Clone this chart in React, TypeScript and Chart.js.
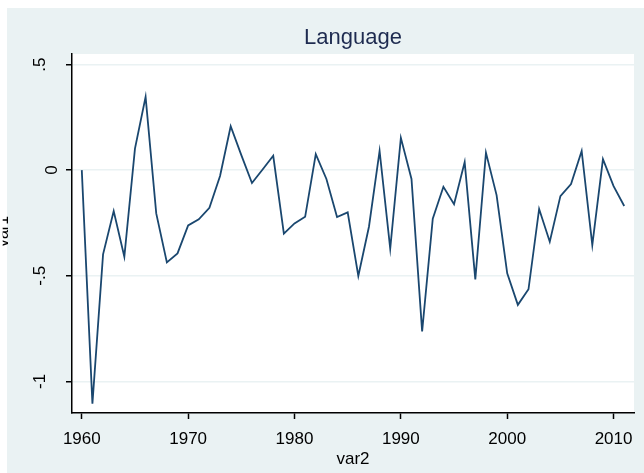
import { useEffect, useRef } from "react";
import { Chart, registerables } from "chart.js";

Chart.register(...registerables);

const years = [
  1960, 1961, 1962, 1963, 1964, 1965, 1966, 1967, 1968, 1969,
  1970, 1971, 1972, 1973, 1974, 1975, 1976, 1977, 1978, 1979,
  1980, 1981, 1982, 1983, 1984, 1985, 1986, 1987, 1988, 1989,
  1990, 1991, 1992, 1993, 1994, 1995, 1996, 1997, 1998, 1999,
  2000, 2001, 2002, 2003, 2004, 2005, 2006, 2007, 2008, 2009,
  2010, 2011,
];

const values = [
  0.0, -1.106, -0.399, -0.194, -0.41, 0.102, 0.347, -0.205, -0.437, -0.394,
  -0.262, -0.233, -0.178, -0.028, 0.208, 0.071, -0.061, 0.003, 0.068, -0.301,
  -0.252, -0.221, 0.076, -0.042, -0.222, -0.2, -0.501, -0.268, 0.091, -0.372,
  0.153, -0.042, -0.764, -0.23, -0.079, -0.161, 0.038, -0.517, 0.083, -0.118,
  -0.489, -0.638, -0.564, -0.184, -0.339, -0.123, -0.066, 0.091, -0.355, 0.052,
  -0.076, -0.17,
];

const xTicks = [1960, 1970, 1980, 1990, 2000, 2010];
const yTicks = [-1, -0.5, 0, 0.5];
const yTickLabels = ["-1", "-.5", "0", ".5"];

const chartTitle = "Language";
const xTitle = "var2";
const yTitle = "var1";

const FONT = "'Liberation Sans', Arial, Helvetica, sans-serif";
const BG = "#EAF2F3";
const GRID = "#EAF2F3";
const LINE = "#1A476F";
const AXIS = "#000000";
const TEXT = "#000000";
const TITLE_COLOR = "#1E2B50";

const decor = {
  id: "decor",
  beforeDraw(chart: any) {
    const { ctx, chartArea: a, width, height } = chart;
    ctx.save();
    ctx.fillStyle = "#ffffff";
    ctx.fillRect(0, 0, width, height);
    ctx.fillStyle = BG;
    ctx.fillRect(7, 8, width - 7, height - 8);
    ctx.fillStyle = "#ffffff";
    ctx.fillRect(a.left, a.top, a.right - a.left, a.bottom - a.top);
    ctx.restore();
  },
  afterDraw(chart: any) {
    const { ctx, chartArea: a, scales } = chart;
    const y = scales.y;
    ctx.save();
    // title
    ctx.fillStyle = TITLE_COLOR;
    ctx.font = `22px ${FONT}`;
    ctx.textAlign = "center";
    ctx.textBaseline = "middle";
    ctx.fillText(chartTitle, (a.left + a.right) / 2, 38);

    // rotated y tick labels
    ctx.fillStyle = TEXT;
    ctx.font = `17px ${FONT}`;
    ctx.textBaseline = "alphabetic";
    yTicks.forEach((v, i) => {
      const label = yTickLabels[i];
      const py = y.getPixelForValue(v);
      const bx = label === "0" ? y.right - 15 : y.right - 27;
      ctx.save();
      ctx.translate(bx, py);
      ctx.rotate(-Math.PI / 2);
      ctx.fillText(label, 0, 0);
      ctx.restore();
    });

    // y axis title (cut off at the left edge)
    ctx.save();
    ctx.beginPath();
    ctx.rect(2.7, 0, 5.3, chart.height);
    ctx.clip();
    ctx.font = `16px ${FONT}`;
    ctx.translate(7.5, (a.top + a.bottom) / 2 - 2);
    ctx.rotate(-Math.PI / 2);
    ctx.fillText(yTitle, 0, 0);
    ctx.restore();

    ctx.restore();
  },
};

export default function App() {
  const ref = useRef<HTMLCanvasElement>(null);

  useEffect(() => {
    const canvas = ref.current;
    if (!canvas) return;
    const chart = new Chart(canvas, {
      type: "line",
      data: {
        datasets: [
          {
            data: years.map((yr, i) => ({ x: yr, y: values[i] })),
            borderColor: LINE,
            borderWidth: 1.8,
            pointRadius: 0,
            tension: 0,
            fill: false,
          },
        ],
      },
      options: {
        animation: false,
        responsive: false,
        devicePixelRatio: 1,
        layout: { padding: { top: 54, right: 10, left: 0, bottom: 0 } },
        plugins: {
          legend: { display: false },
          tooltip: { enabled: false },
          title: { display: false },
        },
        scales: {
          x: {
            type: "linear",
            min: 1959.08,
            max: 2011.92,
            afterBuildTicks: (s: any) => {
              s.ticks = xTicks.map((v) => ({ value: v }));
            },
            afterFit: (s: any) => {
              s.height = 60;
            },
            grid: {
              drawOnChartArea: false,
              drawTicks: true,
              tickLength: 6,
              tickColor: AXIS,
              tickWidth: 1.5,
            },
            border: { display: true, color: AXIS, width: 1.5 },
            ticks: {
              color: TEXT,
              font: { family: FONT, size: 17 },
              padding: 10,
              maxRotation: 0,
              minRotation: 0,
              autoSkip: false,
              callback: (v: any) => String(v),
            },
            title: {
              display: true,
              text: xTitle,
              color: TEXT,
              font: { family: FONT, size: 17 },
              padding: { top: 0, bottom: 3 },
            },
          },
          y: {
            type: "linear",
            min: -1.15,
            max: 0.55,
            afterBuildTicks: (s: any) => {
              s.ticks = yTicks.map((v) => ({ value: v }));
            },
            afterFit: (s: any) => {
              s.width = 72;
            },
            grid: {
              color: GRID,
              lineWidth: 1.5,
              drawTicks: true,
              tickLength: 6,
              tickColor: AXIS,
              tickWidth: 1.5,
            },
            border: { display: true, color: AXIS, width: 1.5 },
            ticks: { display: false },
          },
        },
      },
      plugins: [decor],
    });
    return () => chart.destroy();
  }, []);

  return (
    <div style={{ position: "fixed", left: 0, top: 0, width: 644, height: 473 }}>
      <canvas
        ref={ref}
        width={644}
        height={473}
        style={{ display: "block", width: 644, height: 473 }}
      />
    </div>
  );
}
